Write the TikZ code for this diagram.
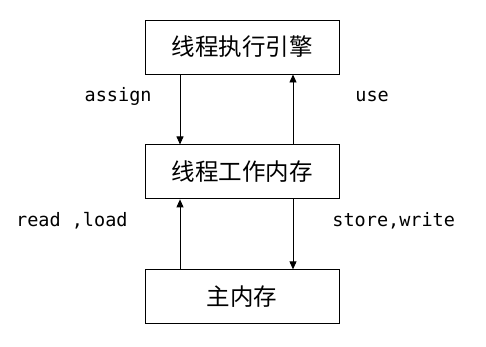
\documentclass[tikz,border=0pt]{standalone}
\usepackage{fontspec}
\setmainfont{Noto Sans CJK SC}
\setmonofont{DejaVu Sans Mono}
\usetikzlibrary{arrows.meta, positioning}
\tikzset{
  membox/.style={draw, line width=0.9pt, minimum width=194pt, minimum height=54pt,
    inner sep=0pt, font=\fontsize{23.5}{25}\selectfont},
  oplabel/.style={inner sep=0pt, font=\ttfamily\fontsize{18.5}{20}\selectfont},
  arrow/.style={-{Triangle[length=8pt, width=7pt]}, line width=0.9pt}
}

\begin{document}
\begin{tikzpicture}
  \useasboundingbox[fill=white] (0pt,0pt) rectangle (486pt,-346pt);
  \node[membox] (engine) at (242pt,-47pt) {线程执行引擎};
  \node[membox, below=70pt of engine] (work) {线程工作内存};
  \node[membox, below=70pt of work] (main) {主内存};
  % engine <-> working memory
  \draw[arrow] ([xshift=-62pt]engine.south) -- node[oplabel, pos=0.31, left=28pt] {assign} ([xshift=-62pt]work.north);
  \draw[arrow] ([xshift=51pt]work.north) -- node[oplabel, pos=0.69, right=62pt] {use} ([xshift=51pt]engine.south);
  % working memory <-> main memory
  \draw[arrow] ([xshift=-62pt]main.north) -- node[oplabel, pos=0.69, left=52pt] {read ,load} ([xshift=-62pt]work.south);
  \draw[arrow] ([xshift=51pt]work.south) -- node[oplabel, pos=0.31, right=39pt] {store,write} ([xshift=51pt]main.north);
\end{tikzpicture}
\end{document}
